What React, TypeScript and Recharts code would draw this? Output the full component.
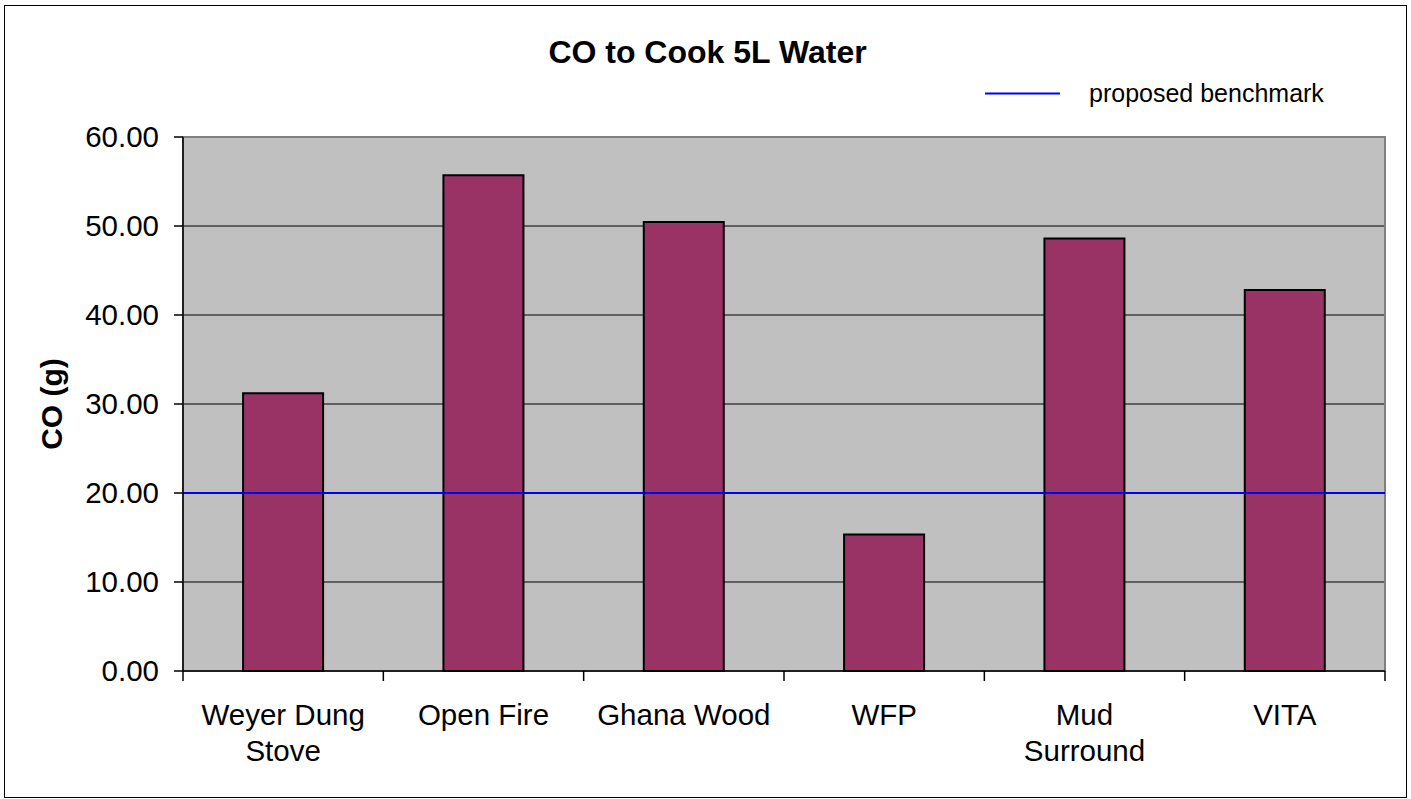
import { Bar, BarChart, CartesianGrid, ReferenceArea, ReferenceLine, XAxis, YAxis } from "recharts";

const title = "CO to Cook 5L Water";
const yLabel = "CO (g)";
const benchmarkLabel = "proposed benchmark";
const categories = ["Weyer Dung\nStove", "Open Fire", "Ghana Wood", "WFP", "Mud\nSurround", "VITA"];
const coValues = [31.2, 55.7, 50.45, 15.35, 48.6, 42.8];
const yTicks = [0, 10, 20, 30, 40, 50, 60];
const benchmark = 20;

const W = 1411;
const H = 799;
const FONT = "'Liberation Sans', Arial, sans-serif";

const data = categories.map((name, i) => ({ name, co: coValues[i] }));

function CategoryTick(props: any) {
  const { x, y, payload, index } = props;
  const half = payload?.offset ?? (W - 183 - 26) / categories.length / 2;
  const lines = String(payload.value).split("\n");
  const last = index === categories.length - 1;
  return (
    <g>
      <line x1={x - half} x2={x - half} y1={y} y2={y + 10} stroke="#000" strokeWidth={1.5} />
      {last && <line x1={x + half} x2={x + half} y1={y} y2={y + 10} stroke="#000" strokeWidth={1.5} />}
      <text x={x} y={y + 54} textAnchor="middle" fontFamily={FONT} fontSize={29.5} fill="#000">
        {lines.map((l, i) => (
          <tspan key={i} x={x} dy={i === 0 ? 0 : 36}>
            {l}
          </tspan>
        ))}
      </text>
    </g>
  );
}

function YTitle({ viewBox }: any) {
  const cx = viewBox.x + 62;
  const cy = viewBox.y + viewBox.height / 2;
  return (
    <text
      x={cx}
      y={cy}
      transform={`rotate(-90, ${cx}, ${cy})`}
      textAnchor="middle"
      fontFamily={FONT}
      fontSize={30}
      fontWeight="bold"
      fill="#000"
    >
      {yLabel}
    </text>
  );
}

export default function App() {
  return (
    <div style={{ position: "absolute", left: 0, top: 0, width: W, height: H, background: "#fff" }}>
      <div
        style={{
          position: "absolute",
          left: 4,
          top: 5,
          width: 1401,
          height: 791,
          border: "1.5px solid #000",
        }}
      />
      <div
        style={{
          position: "absolute",
          left: 0,
          width: W,
          top: 33,
          textAlign: "center",
          fontFamily: FONT,
          fontSize: 32,
          fontWeight: "bold",
          lineHeight: "38px",
        }}
      >
        <span style={{ position: "relative", left: 2 }}>{title}</span>
      </div>
      <svg style={{ position: "absolute", left: 0, top: 0 }} width={W} height={120}>
        <line x1={985} x2={1060} y1={93.5} y2={93.5} stroke="#0000FF" strokeWidth={2} />
        <text x={1089} y={102} fontFamily={FONT} fontSize={25} fill="#000">
          {benchmarkLabel}
        </text>
      </svg>
      <div style={{ position: "absolute", left: 0, top: 0 }}>
        <BarChart
          width={W}
          height={H}
          data={data}
          margin={{ top: 137, right: 26, bottom: 0, left: 0 }}
          barCategoryGap="30%"
        >
          <CartesianGrid vertical={false} stroke="#000" fill="#C0C0C0" fillOpacity={1} />
          <ReferenceArea y1={0} y2={60} fill="none" stroke="#808080" strokeWidth={2} ifOverflow="visible" />
          <XAxis
            dataKey="name"
            height={128}
            interval={0}
            tickLine={false}
            tickSize={0}
            tickMargin={0}
            axisLine={{ stroke: "#000", strokeWidth: 1.5 }}
            tick={<CategoryTick />}
          />
          <YAxis
            width={183}
            domain={[0, 60]}
            ticks={yTicks}
            interval={0}
            tickFormatter={(v: number) => v.toFixed(2)}
            tickSize={9}
            tickMargin={15}
            axisLine={{ stroke: "#000", strokeWidth: 1.5 }}
            tickLine={{ stroke: "#000", strokeWidth: 1.5 }}
            tick={{ fill: "#000", fontSize: 29.5, fontFamily: FONT }}
            label={<YTitle />}
          />
          <Bar dataKey="co" fill="#993366" stroke="#000" strokeWidth={2} isAnimationActive={false} />
          <ReferenceLine y={benchmark} stroke="#0000FF" strokeWidth={2} ifOverflow="visible" />
        </BarChart>
      </div>
    </div>
  );
}
